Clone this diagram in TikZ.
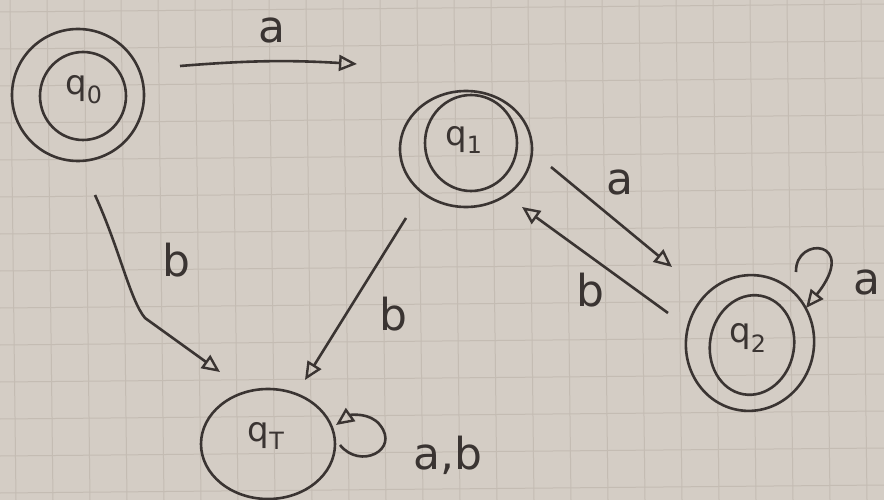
\documentclass[tikz,border=0pt]{standalone}
\usepackage{fontspec}
\setmainfont{DejaVu Sans}
\usetikzlibrary{arrows.meta,shapes.geometric}
\definecolor{paper}{RGB}{212,205,197}
\definecolor{gridc}{RGB}{196,188,179}
\definecolor{ink}{RGB}{58,52,50}
\begin{document}
\begin{tikzpicture}[x=1pt,y=-1pt,
  st/.style={draw=ink,ellipse,line width=2.6pt,inner sep=0pt},
  edge/.style={draw=ink,line width=2.6pt,-{Triangle[open,length=18pt,width=16pt,line width=2.4pt]}},
  lbl/.style={text=ink,font=\fontsize{44}{44}\selectfont},
  qlbl/.style={text=ink,font=\fontsize{34}{34}\selectfont}]
\fill[paper] (0,0) rectangle (884,500);
\useasboundingbox (0,0) rectangle (884,500);
\foreach \x in {10,47,...,884} \draw[gridc,line width=1pt] (\x,0) -- (\x+6,500);
\foreach \y in {12,49,...,500} \draw[gridc,line width=1pt] (0,\y) -- (884,\y-8);
% states
\node[st,minimum width=132pt,minimum height=132pt] (q0) at (78,95) {};
\node[st,minimum width=86pt,minimum height=88pt] (q0i) at (83,96) {};
\node[qlbl] (q0t) at (84,90) {q\textsubscript{0}};
\node[st,minimum width=132pt,minimum height=116pt] (q1) at (466,149) {};
\node[st,minimum width=92pt,minimum height=96pt] (q1i) at (471,143) {};
\node[qlbl] (q1t) at (464,140) {q\textsubscript{1}};
\node[st,minimum width=128pt,minimum height=136pt,rotate=-10] (q2) at (750,343) {};
\node[st,minimum width=84pt,minimum height=100pt,rotate=-10] (q2i) at (752,345) {};
\node[qlbl] (q2t) at (748,338) {q\textsubscript{2}};
\node[st,minimum width=134pt,minimum height=110pt] (qT) at (268,444) {};
\node[qlbl] (qTt) at (266,436) {q\textsubscript{T}};
% free ends
\coordinate (a1) at (180,66);
\coordinate (a2) at (357,64);
\coordinate (b1) at (95,195);
\coordinate (b2) at (220,372);
\coordinate (c1) at (406,218);
\coordinate (c2) at (305,380);
\coordinate (d1) at (551,167);
\coordinate (d2) at (672,267);
\coordinate (e1) at (668,313);
\coordinate (e2) at (522,207);
\coordinate (f1) at (796,272);
\coordinate (f2) at (806,308);
\coordinate (g1) at (340,445);
\coordinate (g2) at (336,425);
% edges
\draw[edge] (a1) to[bend left=4] (a2);
\draw[edge] (b1) .. controls (120,250) and (130,300) .. (145,318) -- (b2);
\draw[edge] (c1) -- (c2);
\draw[edge] (d1) -- (d2);
\draw[edge] (e1) -- (e2);
\draw[edge] (f1) .. controls (795,235) and (860,240) .. (f2);
\draw[edge] (g1) .. controls (360,470) and (400,450) .. (380,425) .. controls (370,412) and (350,415) .. (g2);
% labels
\node[lbl] (la) at (272,30) {a};
\node[lbl] (lb1) at (176,260) {b};
\node[lbl] (lb2) at (393,314) {b};
\node[lbl] (la2) at (620,182) {a};
\node[lbl] (lb3) at (590,290) {b};
\node[lbl,anchor=west] (la3) at (850,282) {a};
\node[lbl] (lab) at (448,455) {a,b};
\end{tikzpicture}
\end{document}
